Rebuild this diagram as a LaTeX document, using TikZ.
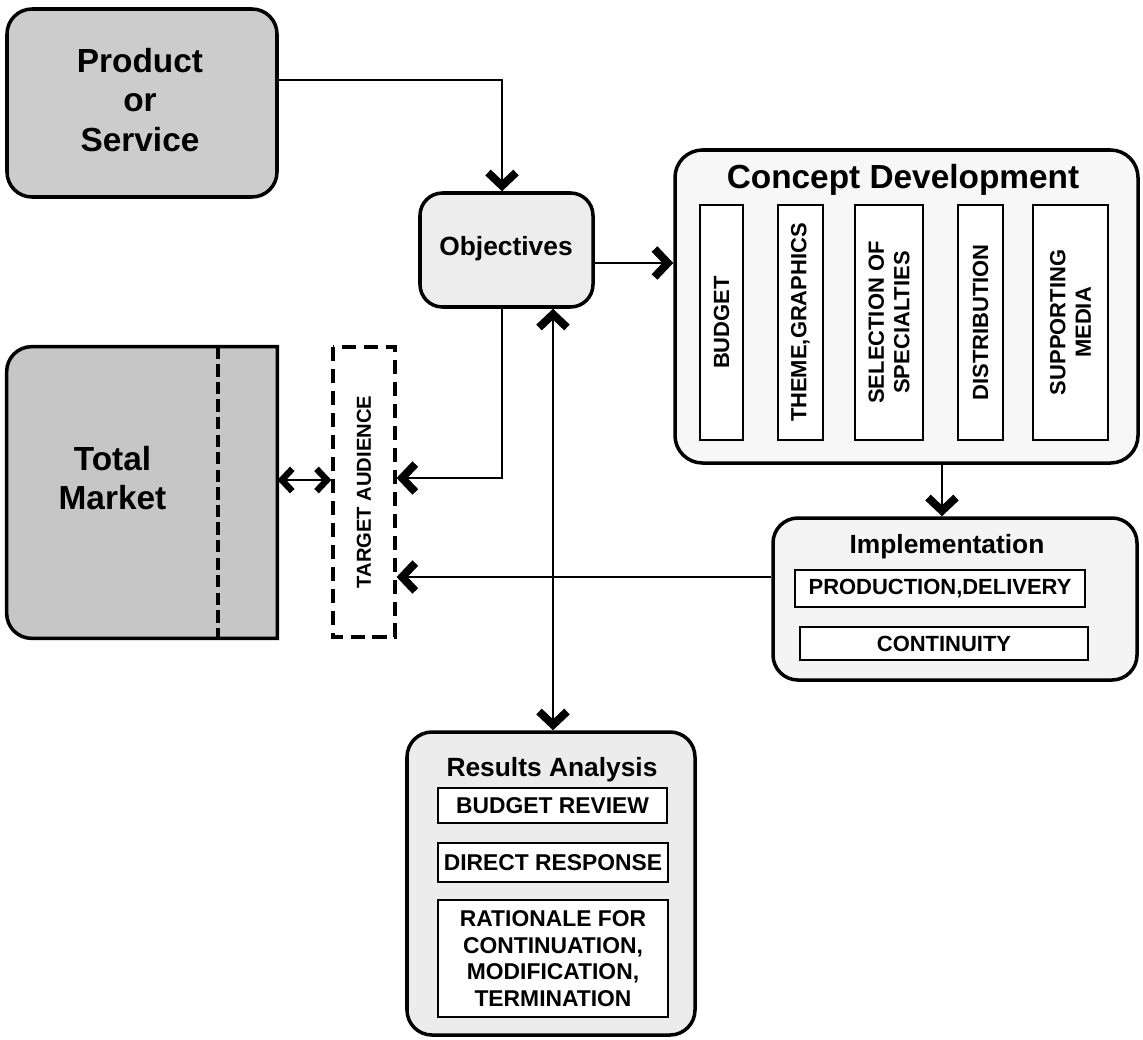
\documentclass[tikz,border=0pt]{standalone}
\usepackage{fontspec}
\setmainfont{Liberation Sans}
\usetikzlibrary{arrows.meta}
% thick chevron tips
\pgfdeclarearrow{
  name = Chev,
  setup code = {
    \pgfarrowssettipend{0pt}
    \pgfarrowssetlineend{-5pt}
    \pgfarrowssetvisualbackend{-12.3pt}
    \pgfarrowssetbackend{-12.3pt}
    \pgfarrowshullpoint{0pt}{0pt}
    \pgfarrowsupperhullpoint{-12.3pt}{9.5pt}
  },
  drawing code = {
    \pgfpathmoveto{\pgfpointorigin}
    \pgfpathlineto{\pgfpoint{-9pt}{9.5pt}}
    \pgfpathlineto{\pgfpoint{-12.3pt}{6.4pt}}
    \pgfpathlineto{\pgfpoint{-6.2pt}{0pt}}
    \pgfpathlineto{\pgfpoint{-12.3pt}{-6.4pt}}
    \pgfpathlineto{\pgfpoint{-9pt}{-9.5pt}}
    \pgfpathclose
    \pgfusepathqfill
  }
}
\pgfdeclarearrow{
  name = ChevS,
  setup code = {
    \pgfarrowssettipend{0pt}
    \pgfarrowssetlineend{-4pt}
    \pgfarrowssetvisualbackend{-9.8pt}
    \pgfarrowssetbackend{-9.8pt}
    \pgfarrowshullpoint{0pt}{0pt}
    \pgfarrowsupperhullpoint{-9.8pt}{7.6pt}
  },
  drawing code = {
    \pgfpathmoveto{\pgfpointorigin}
    \pgfpathlineto{\pgfpoint{-7.2pt}{7.6pt}}
    \pgfpathlineto{\pgfpoint{-9.8pt}{5.1pt}}
    \pgfpathlineto{\pgfpoint{-5pt}{0pt}}
    \pgfpathlineto{\pgfpoint{-9.8pt}{-5.1pt}}
    \pgfpathlineto{\pgfpoint{-7.2pt}{-7.6pt}}
    \pgfpathclose
    \pgfusepathqfill
  }
}
\begin{document}
\begin{tikzpicture}[
  bigbox/.style={draw, line width=2pt, rounded corners=0.5cm, inner sep=0pt},
  subbox/.style={draw, line width=1pt, fill=white, inner sep=0pt, align=center,
                 font=\fontsize{12.5}{14.5}\selectfont\bfseries},
  lbl/.style={inner sep=0pt, align=center},
  arr/.style={line width=1.4pt, -Chev},
  darr/.style={line width=1.4pt, Chev-Chev},
  sarr/.style={line width=1.4pt, ChevS-ChevS}
]
\useasboundingbox (0,0) rectangle (22.86,-20.78);
% boxes
\node[bigbox, fill=gray!40, minimum width=5.40cm, minimum height=3.76cm] (prod) at (2.84,-2.06) {};   %Product
\node[lbl, font=\fontsize{19}{22.5}\selectfont\bfseries] (prodtxt) at (2.80,-2.00) {Product\\or\\Service};
\node[bigbox, fill=gray!14, rounded corners=0.45cm, minimum width=3.46cm, minimum height=2.28cm] (obj) at (10.13,-5.00) {}; %Objectives
\node[lbl, font=\fontsize{15}{18}\selectfont\bfseries] (objtxt) at (10.12,-4.98) {Objectives};
\node[bigbox, fill=gray!6, rounded corners=0.55cm, minimum width=9.26cm, minimum height=6.26cm] (cdev) at (18.13,-6.13) {}; %Concept
\node[lbl, font=\fontsize{19}{22}\selectfont\bfseries] (cdtitle) at (18.06,-3.60) {Concept Development};
\node[subbox, rotate=90, minimum width=4.70cm, minimum height=0.86cm] (budget) at (14.43,-6.45) {BUDGET};
\node[subbox, rotate=90, minimum width=4.70cm, minimum height=0.90cm] (theme)  at (16.01,-6.45) {THEME,GRAPHICS};
\node[subbox, rotate=90, minimum width=4.70cm, minimum height=1.36cm] (select) at (17.78,-6.45) {SELECTION OF\\SPECIALTIES};
\node[subbox, rotate=90, minimum width=4.70cm, minimum height=0.90cm] (distr)  at (19.61,-6.45) {DISTRIBUTION};
\node[subbox, rotate=90, minimum width=4.70cm, minimum height=1.50cm] (suppm)  at (21.41,-6.45) {SUPPORTING\\MEDIA};
\node[bigbox, fill=gray!9, minimum width=7.28cm, minimum height=3.24cm] (impl) at (19.10,-11.98) {}; %Implementation
\node[lbl, font=\fontsize{15}{18}\selectfont\bfseries] (imtitle) at (18.94,-10.94) {Implementation};
\node[subbox, minimum width=5.80cm, minimum height=0.74cm] (prodel) at (18.80,-11.77) {PRODUCTION,DELIVERY};
\node[subbox, minimum width=5.76cm, minimum height=0.66cm] (contin) at (18.88,-12.87) {CONTINUITY};
\node[bigbox, fill=gray!15, minimum width=5.76cm, minimum height=6.06cm] (res) at (11.02,-17.67) {}; %Results
\node[lbl, font=\fontsize{15}{18}\selectfont\bfseries] (restitle) at (11.04,-15.40) {Results Analysis};
\node[subbox, font=\fontsize{13}{15.2}\selectfont\bfseries, minimum width=4.58cm, minimum height=0.70cm] (budrev) at (11.05,-16.11) {BUDGET REVIEW};
\node[subbox, font=\fontsize{13}{15.2}\selectfont\bfseries, minimum width=4.60cm, minimum height=0.78cm] (dirresp) at (11.06,-17.25) {DIRECT RESPONSE};
\node[subbox, font=\fontsize{13}{15.2}\selectfont\bfseries, minimum width=4.60cm, minimum height=2.34cm] (ratio) at (11.06,-19.17) {RATIONALE FOR\\CONTINUATION,\\MODIFICATION,\\TERMINATION};
% total market, rounded on the left only
\node[inner sep=0pt, minimum width=5.40cm, minimum height=5.82cm] (mkt) at (2.84,-9.85) {};
\draw[line width=2pt, fill=gray!45] (mkt.north east) -- ([xshift=0.5cm]mkt.north west)
  arc[start angle=90, end angle=180, radius=0.5cm] -- ([yshift=0.5cm]mkt.south west)
  arc[start angle=180, end angle=270, radius=0.5cm] -- (mkt.south east) -- cycle;
\draw[line width=2.2pt, dash pattern=on 7pt off 3pt] ([xshift=1.52cm]mkt.north) -- ([xshift=1.52cm]mkt.south);
\node[lbl, font=\fontsize{19}{22.5}\selectfont\bfseries] (mkttxt) at (2.25,-9.56) {Total\\Market};
\node[draw, line width=1.8pt, dash pattern=on 8pt off 4.5pt, rotate=90, inner sep=0pt,
      minimum width=5.80cm, minimum height=1.24cm, font=\fontsize{11.5}{14}\selectfont\bfseries] (tgt) at (7.28,-9.84) {TARGET AUDIENCE};
% connectors
\draw[arr]  ([yshift=0.46cm]prod.east) -| ([xshift=-0.09cm]obj.north);                  %
\draw[arr]  ([yshift=-0.26cm]obj.east) -- ([yshift=-0.26cm]obj.east -| cdev.west);       %
\draw[arr]  ([xshift=0.71cm]cdev.south) -- ([xshift=0.71cm]cdev.south |- impl.north);    %
\draw[arr]  ([yshift=0.44cm]impl.west) -- ([yshift=0.44cm]impl.west -| tgt.south);       %
\draw[arr]  ([xshift=-0.09cm]obj.south) |- ([yshift=0.28cm]tgt.south);                  %
\draw[sarr] ([yshift=0.25cm]mkt.east) -- ([yshift=0.25cm]mkt.east -| tgt.north);         %
\draw[darr] ([xshift=0.93cm]obj.south) -- ([xshift=0.93cm]obj.south |- res.north);       %
\end{tikzpicture}
\end{document}
